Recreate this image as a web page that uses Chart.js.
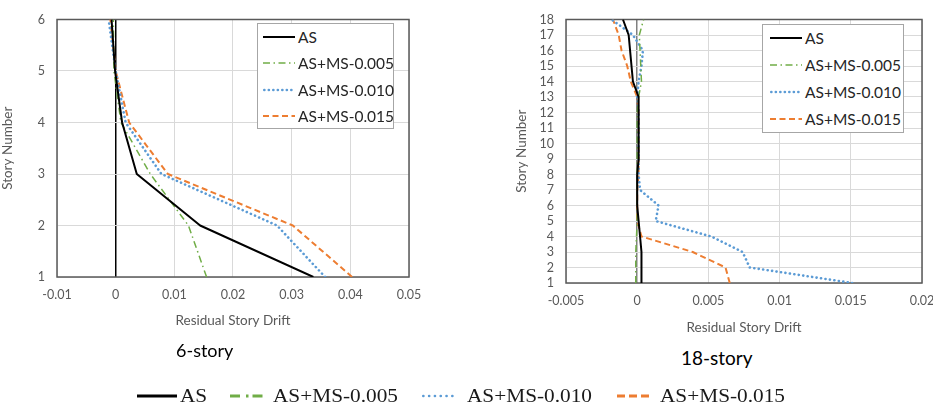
<!DOCTYPE html>
<html>
<head>
<meta charset="utf-8">
<script src="https://cdn.jsdelivr.net/npm/chart.js@4.4.0/dist/chart.umd.min.js"></script>
<style>
  html, body { margin: 0; padding: 0; background: #fff; overflow: hidden; }
  body { width: 933px; height: 405px; position: relative; font-family: Lato, sans-serif; }
  canvas { position: absolute; top: 0; }
  #c6 { left: 0; }
  #c18 { left: 470px; }
  .inlegend { position: absolute; background: #fff; border: 1.5px solid #a6a6a6; box-sizing: border-box; }
  .row { position: absolute; display: flex; align-items: center; height: 20px; font-size: 15.5px; color: #262626; white-space: nowrap; }
  .caption { position: absolute; line-height: 1; color: #000; white-space: nowrap; }
  .bl { position: absolute; }
  .bltext { position: absolute; font-family: "Liberation Serif", serif; font-size: 19px; line-height: 1; color: #1a1a1a; transform: scaleX(1.12); transform-origin: 0 0; white-space: nowrap; }
</style>
</head>
<body>
<canvas id="c6" width="460" height="340"></canvas>
<canvas id="c18" width="480" height="340"></canvas>
<div class="caption" style="left:176px; top:341px; font-size:18px;">6-story</div>
<div class="caption" style="left:681px; top:348px; font-size:19px;">18-story</div>
<div id="bottomLegend"></div>
<script>
const seriesNames = ['AS', 'AS+MS-0.005', 'AS+MS-0.010', 'AS+MS-0.015'];

// 6-story model
const stories6 = [1, 2, 3, 4, 5, 6];
const as6      = [0.0337, 0.0144, 0.0036, 0.0011, -0.0001, -0.0007];
const ms005_6  = [0.0155, 0.0124, 0.0059, 0.0009, -0.0003, -0.0004];
const ms010_6  = [0.0357, 0.0275, 0.0078, 0.0017, 0.0000, -0.0012];
const ms015_6  = [0.0403, 0.0302, 0.0089, 0.0023, 0.0000, -0.0009];
const xTicks6  = ['-0.01', '0', '0.01', '0.02', '0.03', '0.04', '0.05'];

// 18-story model
const stories18 = [1, 2, 3, 4, 5, 6, 7, 8, 9, 10, 11, 12, 13, 14, 15, 16, 17, 18];
const as18     = [0.0003, 0.0003, 0.0003, 0.0002, 0.0001, 0.0000, 0.0000, 0.0000, 0.0001, 0.0001,
                  0.0001, 0.0001, 0.0001, -0.0003, -0.0004, -0.0005, -0.0006, -0.0010];
const ms005_18 = [-0.0001, -0.0001, -0.0001, -0.00005, 0.0000, 0.0000, 0.0000, 0.0000, 0.0000, 0.0000,
                  0.0000, 0.0000, 0.0001, 0.0003, 0.00025, 0.0002, 0.00015, 0.00045];
const ms010_18 = [0.0151, 0.0079, 0.0074, 0.0052, 0.0013, 0.0015, 0.0002, 0.0001, 0.0001, 0.0001,
                  0.0001, 0.0001, 0.0000, 0.0001, 0.0003, 0.0004, -0.0003, -0.0018];
const ms015_18 = [0.0065, 0.0062, 0.0039, 0.0003, 0.0000, 0.0000, 0.0000, 0.0001, 0.0001, 0.0001,
                  0.0001, 0.0001, 0.0000, -0.00045, -0.0007, -0.0011, -0.0013, -0.0017];
const xTicks18 = ['-0.005', '0', '0.005', '0.01', '0.015', '0.02'];

const lineStyles = [
  { color: '#000000', width: 2,   dash: [],                 cap: 'butt' },
  { color: '#70AD47', width: 1.5, dash: [7, 3.5, 1.5, 3.5], cap: 'butt' },
  { color: '#5B9BD5', width: 2.6, dash: [0.1, 4.4],         cap: 'round' },
  { color: '#ED7D31', width: 2,   dash: [6, 3.5],           cap: 'butt' }
];

Chart.defaults.font.family = 'Lato, sans-serif';

// frame round the plot area, like the excel plot border
const plotFrame = {
  id: 'plotFrame',
  beforeDatasetsDraw(chart) {
    const { ctx, chartArea: a } = chart;
    ctx.save();
    ctx.strokeStyle = '#595959';
    ctx.lineWidth = 1.5;
    ctx.strokeRect(a.left, a.top, a.right - a.left, a.bottom - a.top);
    ctx.restore();
  }
};

function makeDatasets(stories, series) {
  return series.map((vals, i) => ({
    label: seriesNames[i],
    data: vals.map((v, j) => ({ x: v, y: stories[j] })),
    showLine: true,
    pointRadius: 0,
    borderColor: lineStyles[i].color,
    borderWidth: lineStyles[i].width,
    borderDash: lineStyles[i].dash,
    borderCapStyle: lineStyles[i].cap,
    borderJoinStyle: 'round',
    tension: 0,
    fill: false
  }));
}

const isZero = c => c.tick && Math.abs(c.tick.value) < 1e-9;

function drawChart(id, o) {
  return new Chart(document.getElementById(id), {
    type: 'scatter',
    data: { datasets: makeDatasets(o.stories, o.series) },
    options: {
      responsive: false,
      animation: false,
      devicePixelRatio: 1,
      layout: { padding: o.padding },
      plugins: { legend: { display: false }, tooltip: { enabled: false } },
      scales: {
        x: {
          type: 'linear',
          min: o.xMin, max: o.xMax,
          afterFit: s => { s.height = o.xAxisHeight; },
          ticks: {
            stepSize: o.xStep, padding: 10.4, color: '#595959', font: { size: 12.5 },
            maxRotation: 0, autoSkip: false,
            callback: (v, i) => o.xLabels[i]
          },
          grid: {
            drawTicks: false,
            color: c => isZero(c) ? o.zeroColor : '#d9d9d9',
            lineWidth: c => isZero(c) ? o.zeroWidth : 1
          },
          border: { display: false },
          title: {
            display: true, text: 'Residual Story Drift', color: '#595959',
            font: { size: 13.5 }, padding: { top: 0, bottom: o.xTitlePad }
          }
        },
        y: {
          type: 'linear',
          min: o.stories[0], max: o.stories[o.stories.length - 1],
          afterFit: s => { s.width = o.yAxisWidth; },
          ticks: { stepSize: 1, padding: 12, color: '#595959', font: { size: 12.5 }, autoSkip: false },
          grid: { drawTicks: false, color: '#d9d9d9', lineWidth: 1 },
          border: { display: false },
          title: {
            display: true, text: 'Story Number', color: '#595959',
            font: { size: 13.5 }, padding: { top: o.yTitlePad, bottom: 0 }
          }
        }
      }
    },
    plugins: [plotFrame]
  });
}

drawChart('c6', {
  stories: stories6, series: [as6, ms005_6, ms010_6, ms015_6],
  xMin: -0.01, xMax: 0.05, xStep: 0.01, xLabels: xTicks6,
  padding: { top: 13, right: 51, bottom: 0, left: 0 },
  xAxisHeight: 63, yAxisWidth: 57, xTitlePad: 10.8, yTitlePad: 0,
  zeroColor: '#000000', zeroWidth: 1.5
});

drawChart('c18', {
  stories: stories18, series: [as18, ms005_18, ms010_18, ms015_18],
  xMin: -0.005, xMax: 0.02, xStep: 0.005, xLabels: xTicks18,
  padding: { top: 13, right: 28, bottom: 0, left: 0 },
  xAxisHeight: 57, yAxisWidth: 96, xTitlePad: 4.2, yTitlePad: 43.8,
  zeroColor: '#808080', zeroWidth: 1.5
});

function sampleSvg(i, w, h, lw, dash, cap) {
  const s = lineStyles[i];
  return `<svg width="${w}" height="${h}" style="display:block"><line x1="${cap === 'round' ? lw / 2 : 0}" y1="${h / 2}" x2="${w}" y2="${h / 2}" stroke="${s.color}" stroke-width="${lw}" stroke-dasharray="${dash.length ? dash.join(' ') : 'none'}" stroke-linecap="${cap}"/></svg>`;
}

function buildLegend(o) {
  const box = document.createElement('div');
  box.className = 'inlegend';
  Object.assign(box.style, { left: o.left + 'px', top: o.top + 'px', width: o.width + 'px', height: o.height + 'px' });
  seriesNames.forEach((name, i) => {
    const s = lineStyles[i];
    const row = document.createElement('div');
    row.className = 'row';
    row.style.left = o.sampleX + 'px';
    row.style.top = (o.first + i * o.step - 10) + 'px';
    row.innerHTML = sampleSvg(i, o.sampleW, 8, s.width, s.dash, s.cap) +
      `<span style="margin-left:${o.gap}px">${name}</span>`;
    box.appendChild(row);
  });
  document.body.appendChild(box);
}

buildLegend({ left: 257, top: 23, width: 137, height: 106, sampleX: 5, sampleW: 32, gap: 3, first: 12.5, step: 26.5 });
buildLegend({ left: 762, top: 24, width: 142, height: 109, sampleX: 7, sampleW: 32, gap: 3, first: 12.5, step: 27 });

// shared legend under both charts
const bottomSampleX = [137, 230, 422, 617];
const bottomSampleW = [40, 33, 35, 35];
const bottomTextX = [180, 273, 467, 660];
const bottomDash = [[], [10, 6, 2.5, 4], [0.1, 5.7], [8, 4]];
const bottomLegend = document.getElementById('bottomLegend');
seriesNames.forEach((name, i) => {
  const cap = lineStyles[i].cap;
  const sm = document.createElement('div');
  sm.className = 'bl';
  sm.style.left = bottomSampleX[i] + 'px';
  sm.style.top = '391px';
  sm.innerHTML = sampleSvg(i, bottomSampleW[i], 10, i === 2 ? 2.6 : 2.8, bottomDash[i], cap);
  bottomLegend.appendChild(sm);
  const tx = document.createElement('div');
  tx.className = 'bltext';
  tx.style.left = bottomTextX[i] + 'px';
  tx.style.top = '386px';
  tx.textContent = name;
  bottomLegend.appendChild(tx);
});
</script>
</body>
</html>
